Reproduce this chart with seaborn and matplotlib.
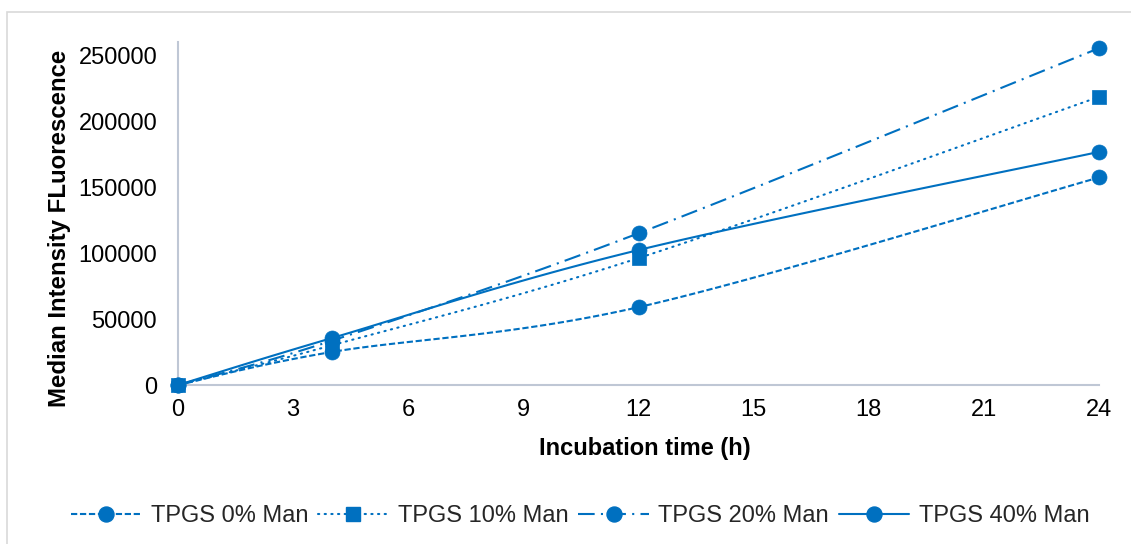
import numpy as np
import pandas as pd
import matplotlib
matplotlib.use("Agg")
import matplotlib.pyplot as plt
from matplotlib.lines import Line2D
from matplotlib.patches import Rectangle
import seaborn as sns

# Incubation times (h) and median fluorescence intensity per formulation
hours = [0, 4, 12, 24]
tpgs_0 = [0, 25000, 59000, 157300]
tpgs_10 = [0, 30000, 96200, 218400]
tpgs_20 = [0, 33500, 115000, 255300]
tpgs_40 = [0, 35500, 102300, 176700]
series_names = ["TPGS 0% Man", "TPGS 10% Man", "TPGS 20% Man", "TPGS 40% Man"]
x_ticks = [0, 3, 6, 9, 12, 15, 18, 21, 24]
y_ticks = [0, 50000, 100000, 150000, 200000, 250000]

BLUE = "#0070C0"
AXIS_GREY = "#BFC7D5"

sns.set_theme(style="white")
plt.rcParams["font.family"] = ["Liberation Sans", "DejaVu Sans"]

W, H, DPI = 1131, 544, 100
fig = plt.figure(figsize=(W / DPI, H / DPI), dpi=DPI)
ax = fig.add_axes([178 / W, 1 - 385 / H, (1099 - 178) / W, (385 - 42) / H])

X_MAX, Y_MAX = 24, 260000
ax.set_xlim(0, X_MAX)
ax.set_ylim(0, Y_MAX)
ax_w_px, ax_h_px = 1099 - 178, 385 - 42


def smooth_curve(xs, ys, n=40):
    """Cubic Bezier smoothing through the points (Catmull-Rom style, in screen units)."""
    px = np.asarray(xs, float) / X_MAX * ax_w_px
    py = np.asarray(ys, float) / Y_MAX * ax_h_px
    P = np.column_stack([px, py])
    m = len(P)
    out = [P[0]]
    t = np.linspace(0, 1, n)[1:, None]
    for i in range(m - 1):
        p0 = P[max(i - 1, 0)]
        p1 = P[i]
        p2 = P[i + 1]
        p3 = P[min(i + 2, m - 1)]
        c1 = p1 + (p2 - p0) / 6.0
        c2 = p2 - (p3 - p1) / 6.0
        seg = ((1 - t) ** 3) * p1 + 3 * ((1 - t) ** 2) * t * c1 + 3 * (1 - t) * t ** 2 * c2 + t ** 3 * p2
        out.extend(seg)
    out = np.array(out)
    return out[:, 0] / ax_w_px * X_MAX, out[:, 1] / ax_h_px * Y_MAX


styles = {
    "TPGS 0% Man": dict(ls=(0, (3, 1.3)), marker="o", cap="butt"),
    "TPGS 10% Man": dict(ls=(0, (0.6, 2.6)), marker="s", cap="round"),
    "TPGS 20% Man": dict(ls=(0, (8, 3, 1, 3)), marker="o", cap="butt"),
    "TPGS 40% Man": dict(ls="-", marker="o", cap="butt"),
}
values = [tpgs_0, tpgs_10, tpgs_20, tpgs_40]
LW = 1.5
MS = 10.8

for name, vals in zip(series_names, values):
    st = styles[name]
    cx, cy = smooth_curve(hours, vals)
    curve = pd.DataFrame({"x": cx, "y": cy})
    n_before = len(ax.lines)
    sns.lineplot(data=curve, x="x", y="y", ax=ax, sort=False, estimator=None,
                 color=BLUE, linewidth=LW, linestyle=st["ls"], zorder=3)
    for ln in ax.lines[n_before:]:
        ln.set_dash_capstyle(st["cap"])
        ln.set_solid_capstyle("butt")
    pts = pd.DataFrame({"x": hours, "y": vals})
    msize = MS if st["marker"] == "o" else MS * 0.95
    sns.scatterplot(data=pts, x="x", y="y", ax=ax, marker=st["marker"],
                    s=msize ** 2, color=BLUE, edgecolor=BLUE, linewidth=0.5,
                    zorder=4, clip_on=False)

ax.set_xticks(x_ticks)
ax.set_yticks(y_ticks)
ax.set_xticklabels([str(v) for v in x_ticks])
ax.set_yticklabels([str(v) for v in y_ticks])
ax.tick_params(axis="both", length=0, labelsize=17, colors="black")
ax.tick_params(axis="x", pad=10)
ax.tick_params(axis="y", pad=15)

for side in ["top", "right"]:
    ax.spines[side].set_visible(False)
for side in ["left", "bottom"]:
    ax.spines[side].set_color(AXIS_GREY)
    ax.spines[side].set_linewidth(1.5)
    ax.spines[side].set_zorder(2)
ax.grid(False)

ax.set_xlabel("Incubation time (h)", fontsize=17, fontweight="bold")
ax.set_ylabel("Median Intensity FLuorescence", fontsize=17.3, fontweight="bold")
ax.xaxis.set_label_coords((645 - 178) / (1099 - 178), -(448 - 385) / (385 - 42))
ax.yaxis.set_label_coords((60 - 178) / (1099 - 178), (385 - 228) / (385 - 42))
ax.xaxis.label.set_verticalalignment("center")
ax.yaxis.label.set_verticalalignment("center")
ax.xaxis.label.set_color("black")
ax.yaxis.label.set_color("black")

handles = []
for name in series_names:
    st = styles[name]
    h = Line2D([], [], color=BLUE, linewidth=LW, linestyle=st["ls"],
               dash_capstyle=st["cap"], marker=st["marker"],
               markersize=MS if st["marker"] == "o" else MS * 0.95,
               markerfacecolor=BLUE, markeredgecolor=BLUE)
    handles.append(h)

fig.legend(handles, series_names, loc="center", bbox_to_anchor=(580 / W, 1 - 516 / H),
           ncol=4, frameon=False, fontsize=17, handlelength=3.0, handletextpad=0.4,
           columnspacing=0.4, borderaxespad=0)

# light chart-area border
fig.patches.append(Rectangle((7 / W, -0.1), 1.2, 1 - 12 / H + 0.1, transform=fig.transFigure,
                             fill=False, edgecolor="#D9D9D9", linewidth=1.2, zorder=0))

fig.savefig("out.png", dpi=DPI, facecolor="white")
